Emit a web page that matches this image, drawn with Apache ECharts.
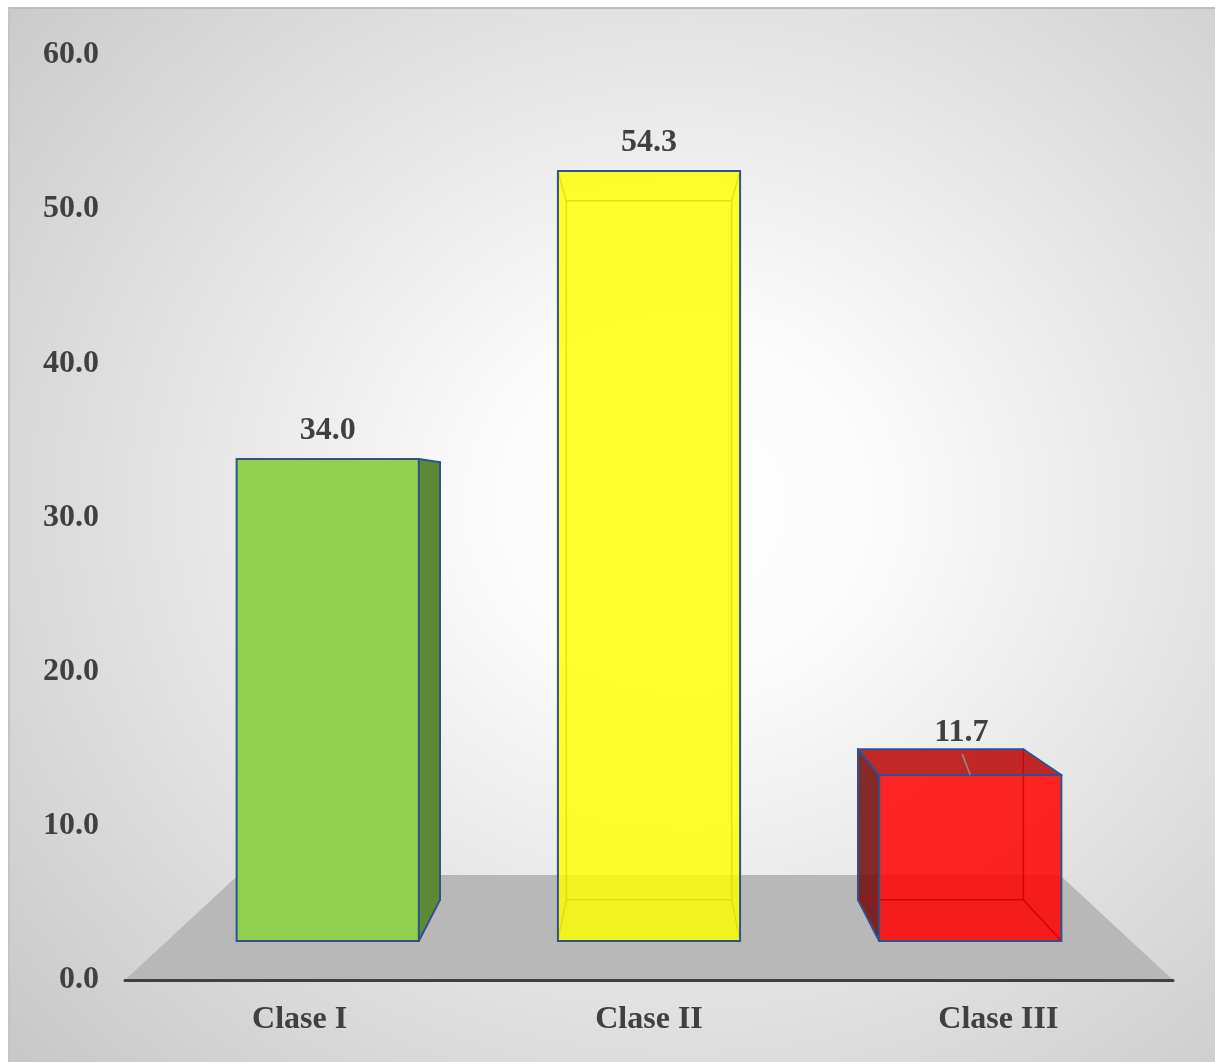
<!DOCTYPE html>
<html>
<head>
<meta charset="utf-8">
<script src="https://cdn.jsdelivr.net/npm/echarts@6/dist/echarts.min.js"></script>
<style>
  html, body { margin: 0; padding: 0; background: #ffffff; }
  #bg { position: absolute; left: 8px; top: 7px; width: 1207px; height: 1055px;
        background: radial-gradient(ellipse 75% 78% at 56% 47%, #ffffff 0%, #fbfbfb 22%, #e2e2e2 60%, #c8c8c8 100%);
        border-top: 2px solid #bdbdbd; border-left: 2px solid #c4c4c4; box-sizing: border-box; }
  #chart { position: absolute; left: 0; top: 0; width: 1215px; height: 1062px; }
</style>
</head>
<body>
<div id="bg"></div>
<div id="chart"></div>
<script>
// ---- data ----
const categories = ['Clase I', 'Clase II', 'Clase III'];
const values = [34.0, 54.3, 11.7];
const yTicks = [0, 10, 20, 30, 40, 50, 60];

// ---- styling / projection constants ----
const FONT = 'bold 32px "Liberation Serif", "Times New Roman", serif';
const TEXT = '#404040';
const OUTLINE = '#2f528f';
const VANISH_VALUE = 31.5;   // vertical vanishing height (in axis units)
const K_FRONT = 0.9197, K_BACK = 0.835, K_FLOOR = 0.784;
const BAR_FRAC = 0.567;
const barStyles = [
  { front: '#92d050', side: '#5b8a32', top: '#7fb845', opaque: true },
  { front: 'rgba(255,255,0,0.82)', side: 'rgba(225,225,0,0.85)', top: 'rgba(230,230,0,0.85)', inner: 'rgba(215,215,20,0.75)', opaque: false },
  { front: 'rgba(255,0,0,0.85)', side: 'rgba(115,15,15,0.88)', top: 'rgba(190,18,18,0.9)', inner: 'rgba(200,0,0,0.8)', opaque: false }
];
const labelShift = [[0, 0], [0, 0], [-9, -14]];

function vanish(api) {
  const a = api.coord([0, VANISH_VALUE]);
  const b = api.coord([categories.length - 1, VANISH_VALUE]);
  return [(a[0] + b[0]) / 2, a[1]];
}
function proj(V, p, k) { return [V[0] + k * (p[0] - V[0]), V[1] + k * (p[1] - V[1])]; }

function renderFloor(params, api) {
  const V = vanish(api);
  const band = api.size([1, 0])[0];
  const l = api.coord([0, 0]), r = api.coord([categories.length - 1, 0]);
  const fl = [l[0] - band / 2, l[1]], fr = [r[0] + band / 2, r[1]];
  const bl = proj(V, fl, K_FLOOR), br = proj(V, fr, K_FLOOR);
  return { type: 'polygon', shape: { points: [bl, br, fr, fl] }, style: { fill: '#b8b8b8' } };
}

function renderBar(params, api) {
  const i = api.value(0), v = api.value(1);
  const st = barStyles[i];
  const V = vanish(api);
  const band = api.size([1, 0])[0];
  const base = api.coord([i, 0]), top = api.coord([i, v]);
  const w = band * BAR_FRAC;
  const xl = base[0] - w / 2, xr = base[0] + w / 2, yb = base[1], yt = top[1];
  const raw = { TL: [xl, yt], TR: [xr, yt], BR: [xr, yb], BL: [xl, yb] };
  const F = {}, B = {};
  for (const key in raw) { F[key] = proj(V, raw[key], K_FRONT); B[key] = proj(V, raw[key], K_BACK); }
  const rightVis = B.TR[0] > F.TR[0] + 0.5;
  const leftVis = B.TL[0] < F.TL[0] - 0.5;
  const topVis = B.TL[1] < F.TL[1] - 0.5;
  const children = [];
  if (topVis) children.push({ type: 'polygon', shape: { points: [B.TL, B.TR, F.TR, F.TL] }, style: { fill: st.top } });
  if (leftVis) children.push({ type: 'polygon', shape: { points: [B.TL, F.TL, F.BL, B.BL] }, style: { fill: st.side } });
  if (rightVis) children.push({ type: 'polygon', shape: { points: [F.TR, B.TR, B.BR, F.BR] }, style: { fill: st.side } });
  children.push({ type: 'polygon', shape: { points: [F.TL, F.TR, F.BR, F.BL] }, style: { fill: st.front } });
  const edges = [
    ['F', 'TL', 'F', 'TR', ['front', 'top']], ['F', 'TR', 'F', 'BR', ['front', 'right']],
    ['F', 'BR', 'F', 'BL', ['front', 'bottom']], ['F', 'BL', 'F', 'TL', ['front', 'left']],
    ['B', 'TL', 'B', 'TR', ['back', 'top']], ['B', 'TR', 'B', 'BR', ['back', 'right']],
    ['B', 'BR', 'B', 'BL', ['back', 'bottom']], ['B', 'BL', 'B', 'TL', ['back', 'left']],
    ['F', 'TL', 'B', 'TL', ['top', 'left']], ['F', 'TR', 'B', 'TR', ['top', 'right']],
    ['F', 'BR', 'B', 'BR', ['bottom', 'right']], ['F', 'BL', 'B', 'BL', ['bottom', 'left']]
  ];
  const vis = { front: true, back: false, top: topVis, left: leftVis, right: rightVis, bottom: false };
  const P = { F: F, B: B };
  const hidden = [], shown = [];
  edges.forEach(e => {
    const seg = { p1: P[e[0]][e[1]], p2: P[e[2]][e[3]] };
    if (e[4].some(f => vis[f])) shown.push(seg); else hidden.push(seg);
  });
  if (!st.opaque) {
    hidden.forEach(s => children.push({ type: 'line', shape: { x1: s.p1[0], y1: s.p1[1], x2: s.p2[0], y2: s.p2[1] },
      style: { stroke: st.inner, lineWidth: 1.5 } }));
  }
  shown.forEach(s => children.push({ type: 'line', shape: { x1: s.p1[0], y1: s.p1[1], x2: s.p2[0], y2: s.p2[1] },
    style: { stroke: OUTLINE, lineWidth: 2, lineCap: 'round' } }));
  const cx = (F.TL[0] + F.TR[0]) / 2, ty = F.TL[1];
  const sh = labelShift[i];
  const lx = cx + sh[0], ly = ty - 28 + sh[1];
  if (sh[0] !== 0 || sh[1] !== 0) {
    children.push({ type: 'line', shape: { x1: lx + 1, y1: ly + 21, x2: cx, y2: ty },
      style: { stroke: '#8c8c8c', lineWidth: 1.5 } });
  }
  children.push({ type: 'text', style: { text: v.toFixed(1), x: lx, y: ly, fill: TEXT, font: FONT, align: 'center', verticalAlign: 'middle' } });
  return { type: 'group', children: children };
}

const chart = echarts.init(document.getElementById('chart'), null, { renderer: 'canvas' });
chart.setOption({
  backgroundColor: 'transparent',
  animation: false,
  grid: { left: 125, right: 42, top: 55, bottom: 82 },
  xAxis: {
    type: 'category', data: categories, z: 10,
    axisLine: { show: true, lineStyle: { color: '#404040', width: 3 } },
    axisTick: { show: false },
    axisLabel: { margin: 24, color: TEXT, fontFamily: '"Liberation Serif", "Times New Roman", serif', fontWeight: 'bold', fontSize: 32 }
  },
  yAxis: {
    type: 'value', min: yTicks[0], max: yTicks[yTicks.length - 1], interval: yTicks[1] - yTicks[0],
    axisLine: { show: false }, axisTick: { show: false }, splitLine: { show: false },
    axisLabel: { margin: 26, color: TEXT, fontFamily: '"Liberation Serif", "Times New Roman", serif', fontWeight: 'bold', fontSize: 32,
      formatter: v => v.toFixed(1) }
  },
  series: [
    { type: 'custom', z: 1, data: [[0, 0]], renderItem: renderFloor, silent: true },
    { type: 'custom', z: 3, data: values.map((v, i) => [i, v]), renderItem: renderBar, encode: { x: 0, y: 1 } }
  ]
});
</script>
</body>
</html>
